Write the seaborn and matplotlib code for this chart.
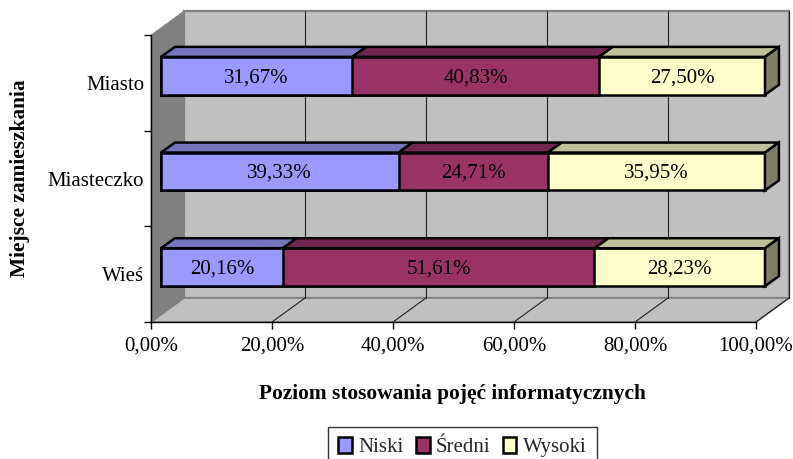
import matplotlib
matplotlib.use("Agg")
import matplotlib.pyplot as plt
import numpy as np
import pandas as pd
import seaborn as sns
from matplotlib.patches import Polygon

miejsca = ["Miasto", "Miasteczko", "Wieś"]
niski = [31.67, 39.33, 20.16]
sredni = [40.83, 24.71, 51.61]
wysoki = [27.50, 35.95, 28.23]
x_ticks = [0, 20, 40, 60, 80, 100]
x_labels = ["0,00%", "20,00%", "40,00%", "60,00%", "80,00%", "100,00%"]

sns.set_theme(style="white")
plt.rcParams["font.family"] = ["Liberation Serif", "DejaVu Serif"]

W, H = 793, 459
fig = plt.figure(figsize=(W / 100, H / 100), dpi=100)


def box(x0, y0, x1, y1):
    # piksele obrazka -> ulamki figury
    return [x0 / W, 1 - y1 / H, (x1 - x0) / W, (y1 - y0) / H]


# os glowna (przednia krawedz podlogi)
ax = fig.add_axes(box(151, 35, 756, 322))
ax.set_xlim(0, 100)
ax.set_ylim(2.5, -0.5)
ax.patch.set_visible(False)
ax.set_zorder(1)

px = 100 / 605
py = 3 / 287


def poly(a, pts, **kw):
    a.add_patch(Polygon(pts, closed=True, clip_on=False, **kw))


# sciany wykresu
dx, dy = 33 * px, -24 * py
poly(ax, [(dx, 2.5 + dy), (100 + dx, 2.5 + dy), (100 + dx, -0.5 + dy), (dx, -0.5 + dy)],
     fc="#C0C0C0", ec="#808080", lw=1.6, zorder=0)
poly(ax, [(0, -0.5), (dx, -0.5 + dy), (dx, 2.5 + dy), (0, 2.5)], fc="#808080", ec="#808080", lw=0.5, zorder=0.1)
poly(ax, [(0, 2.5), (100, 2.5), (100 + dx, 2.5 + dy), (dx, 2.5 + dy)], fc="#C0C0C0", ec="#808080", lw=1.2, zorder=0.1)
for t in x_ticks[1:]:
    ax.plot([t + dx, t + dx], [-0.5 + dy, 2.5 + dy], color="#222222", lw=0.8, clip_on=False, zorder=0.2)
    ax.plot([t, t + dx], [2.5, 2.5 + dy], color="#222222", lw=0.8, clip_on=False, zorder=0.2)

ax.set_xticks(x_ticks)
ax.set_xticklabels(x_labels, fontsize=15, color="black")
ax.set_yticks([0, 1, 2])
ax.set_yticklabels(miejsca, fontsize=15, color="black")
ax.set_yticks([-0.5, 0.5, 1.5, 2.5], minor=True)
ax.tick_params(axis="y", which="major", length=0, pad=5)
ax.tick_params(axis="y", which="minor", length=5, width=1, color="black", left=True)
ax.tick_params(axis="x", length=5, width=1, color="black", bottom=True, pad=5.5)
sns.despine(ax=ax)
ax.spines["left"].set_color("black")
ax.spines["bottom"].set_color("black")
ax.spines["left"].set_linewidth(1)
ax.spines["bottom"].set_linewidth(1)
ax.set_xlabel("Poziom stosowania pojęć informatycznych", fontsize=15.4, fontweight="bold", color="black")
ax.xaxis.set_label_coords(0.4975, -0.216)
ax.set_ylabel("Miejsce zamieszkania", fontsize=15.4, fontweight="bold", color="black")
ax.yaxis.set_label_coords(-0.2, 0.5)

# slupki na osobnej osi, przesunietej w glab
ax2 = fig.add_axes(box(161, 28, 765, 315))
ax2.patch.set_visible(False)
ax2.set_zorder(2)

df = pd.DataFrame({"miejsce": miejsca, "niski": niski, "sredni": sredni, "wysoki": wysoki})
df["c1"] = df["niski"]
df["c2"] = df["niski"] + df["sredni"]
df["c3"] = df["c2"] + df["wysoki"]

bar_kw = dict(y="miejsce", orient="y", order=miejsca, width=0.396, saturation=1,
              edgecolor="black", linewidth=1.8, clip_on=False, ax=ax2)
sns.barplot(data=df, x="c3", color="#FFFFCC", label="Wysoki", **bar_kw)
sns.barplot(data=df, x="c2", color="#993366", label="Średni", **bar_kw)
sns.barplot(data=df, x="c1", color="#9999FF", label="Niski", **bar_kw)
ax2.set_xlim(0, 100)
ax2.set_ylim(2.5, -0.5)
ax2.axis("off")

bw = 0.396 / 2
bx, by = 14 * px, -10 * py
tops = ["#7676BF", "#732650", "#BFBF99"]
for i in range(len(miejsca)):
    start = 0
    y0 = i - bw
    for val, c in [(niski[i], tops[0]), (sredni[i], tops[1]), (wysoki[i], tops[2])]:
        end = start + val
        poly(ax2, [(start, y0), (end, y0), (end + bx, y0 + by), (start + bx, y0 + by)],
             fc=c, ec="black", lw=1.8, zorder=3)
        ax2.text(start + val / 2, i + 0.02, f"{val:.2f}%".replace(".", ","), ha="center", va="center",
                 fontsize=15, color="black", zorder=4)
        start = end
    poly(ax2, [(start, y0), (start + bx, y0 + by), (start + bx, y0 + by + 2 * bw), (start, y0 + 2 * bw)],
         fc="#7F7F66", ec="black", lw=1.8, zorder=3)

h, l = ax2.get_legend_handles_labels()
leg = ax2.legend(h[::-1], l[::-1], ncol=3, loc="upper left", bbox_to_anchor=(328 / W, 1 - 427 / H),
                 bbox_transform=fig.transFigure, frameon=True, fancybox=False, edgecolor="#333333",
                 framealpha=1, fontsize=15, borderaxespad=0, handlelength=0.65, handleheight=0.75,
                 handletextpad=0.3, columnspacing=0.6, borderpad=0.5)
leg.get_frame().set_linewidth(1)

fig.savefig("out.png", dpi=100)
